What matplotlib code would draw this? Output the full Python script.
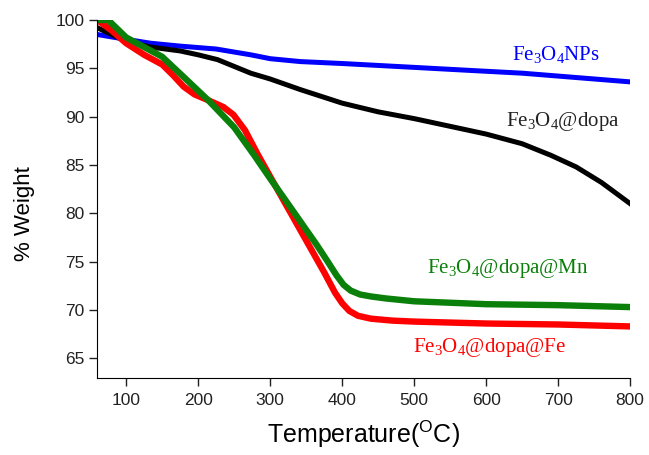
import matplotlib
matplotlib.use("Agg")
import matplotlib.pyplot as plt

# TGA curves
temp_np = [60, 100, 134, 175, 225, 273, 300, 342, 400, 500, 574, 650, 700, 800]
weight_np = [98.5, 98.0, 97.6, 97.3, 97.0, 96.4, 96.0, 95.7, 95.5, 95.1, 94.8, 94.5, 94.2, 93.6]

temp_dopa = [60, 100, 134, 175, 200, 227, 250, 273, 300, 342, 400, 450, 500, 550, 600, 650, 690, 725, 760, 800]
weight_dopa = [99.2, 97.8, 97.2, 96.8, 96.4, 95.9, 95.2, 94.5, 93.9, 92.8, 91.4, 90.5, 89.8, 89.0, 88.2, 87.2, 86.0, 84.8, 83.2, 81.0]

temp_mn = [60, 75, 100, 125, 150, 180, 214, 250, 277, 300, 319, 350, 365, 380, 392, 402, 412, 425, 440, 460, 500, 600, 700, 800]
weight_mn = [100.0, 100.0, 98.2, 97.2, 96.2, 94.1, 91.7, 88.9, 86.1, 83.6, 81.6, 78.3, 76.7, 75.0, 73.6, 72.6, 72.0, 71.6, 71.4, 71.2, 70.9, 70.6, 70.5, 70.3]

temp_fe = [60, 80, 100, 125, 150, 165, 180, 195, 214, 235, 249, 265, 282, 300, 325, 350, 375, 390, 400, 410, 422, 440, 470, 500, 600, 700, 800]
weight_fe = [100.0, 98.9, 97.6, 96.4, 95.4, 94.3, 93.1, 92.3, 91.7, 91.0, 90.2, 88.6, 86.2, 83.8, 80.5, 77.2, 73.9, 71.8, 70.7, 69.9, 69.4, 69.1, 68.9, 68.8, 68.6, 68.5, 68.3]

plt.rcParams['font.family'] = ['Liberation Sans', 'DejaVu Sans']
plt.rcParams['mathtext.fontset'] = 'custom'
plt.rcParams['mathtext.rm'] = 'Liberation Serif'
plt.rcParams['mathtext.sf'] = 'Liberation Sans'

fig = plt.figure(figsize=(6.49, 4.55), dpi=100)
ax = fig.add_axes([0.15, 0.17, 0.821, 0.786])

ax.plot(temp_np, weight_np, color='#0000ff', lw=3.6, solid_joinstyle='round')
ax.plot(temp_dopa, weight_dopa, color='black', lw=3.6, solid_joinstyle='round')
ax.plot(temp_fe, weight_fe, color='#ff0000', lw=4.6, solid_joinstyle='round')
ax.plot(temp_mn, weight_mn, color='#0a7f0a', lw=4.6, solid_joinstyle='round')

ax.text(636, 96.4, r'$\mathrm{Fe_3O_4NPs}$', color='#0000ff', fontsize=15, va='center')
ax.text(627, 89.5, r'$\mathrm{Fe_3O_4@dopa}$', color='#222222', fontsize=15, va='center')
ax.text(518, 74.3, r'$\mathrm{Fe_3O_4@dopa@Mn}$', color='#0a7f0a', fontsize=15, va='center')
ax.text(498, 66.1, r'$\mathrm{Fe_3O_4@dopa@Fe}$', color='#ff0000', fontsize=15, va='center')

ax.set_xlim(60, 800)
ax.set_ylim(63, 100)
ax.set_xticks([100, 200, 300, 400, 500, 600, 700, 800])
ax.set_yticks([65, 70, 75, 80, 85, 90, 95, 100])
ax.spines['top'].set_visible(False)
ax.spines['right'].set_visible(False)
ax.tick_params(direction='out', length=6, width=1, labelsize=12.5, colors='#222222')
ax.tick_params(axis='x', pad=5)
ax.set_xlabel(r'Temperature($^{\mathsf{O}}$C)', fontsize=18, labelpad=8)
ax.set_ylabel('% Weight', fontsize=16)
ax.yaxis.set_label_coords(-0.117, 0.46)

fig.savefig('out.png', dpi=100)
